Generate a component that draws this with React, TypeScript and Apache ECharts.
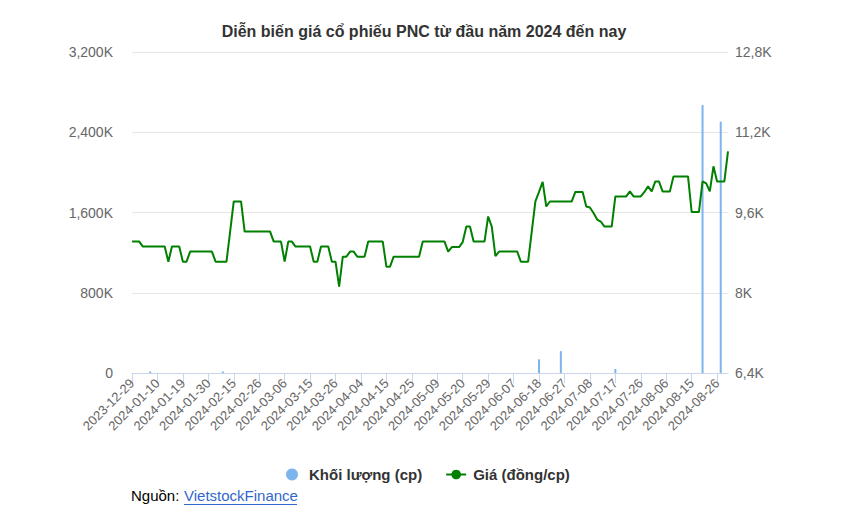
import React, { useEffect, useRef } from "react";
import * as echarts from "echarts";

const TITLE = "Diễn biến giá cổ phiếu PNC từ đầu năm 2024 đến nay";
const LEGEND_VOLUME = "Khối lượng (cp)";
const LEGEND_PRICE = "Giá (đồng/cp)";

const dates: string[] = [
  "2023-12-29", "2024-01-02", "2024-01-03", "2024-01-04", "2024-01-05", "2024-01-08", "2024-01-09", "2024-01-10", "2024-01-11", "2024-01-12",
  "2024-01-15", "2024-01-16", "2024-01-17", "2024-01-18", "2024-01-19", "2024-01-22", "2024-01-23", "2024-01-24", "2024-01-25", "2024-01-26",
  "2024-01-29", "2024-01-30", "2024-01-31", "2024-02-01", "2024-02-02", "2024-02-05", "2024-02-06", "2024-02-07", "2024-02-15", "2024-02-16",
  "2024-02-19", "2024-02-20", "2024-02-21", "2024-02-22", "2024-02-23", "2024-02-26", "2024-02-27", "2024-02-28", "2024-02-29", "2024-03-01",
  "2024-03-04", "2024-03-05", "2024-03-06", "2024-03-07", "2024-03-08", "2024-03-11", "2024-03-12", "2024-03-13", "2024-03-14", "2024-03-15",
  "2024-03-18", "2024-03-19", "2024-03-20", "2024-03-21", "2024-03-22", "2024-03-25", "2024-03-26", "2024-03-27", "2024-03-28", "2024-03-29",
  "2024-04-01", "2024-04-02", "2024-04-03", "2024-04-04", "2024-04-05", "2024-04-08", "2024-04-09", "2024-04-10", "2024-04-11", "2024-04-12",
  "2024-04-15", "2024-04-16", "2024-04-17", "2024-04-19", "2024-04-22", "2024-04-23", "2024-04-24", "2024-04-25", "2024-04-26", "2024-05-02",
  "2024-05-03", "2024-05-06", "2024-05-07", "2024-05-08", "2024-05-09", "2024-05-10", "2024-05-13", "2024-05-14", "2024-05-15", "2024-05-16",
  "2024-05-17", "2024-05-20", "2024-05-21", "2024-05-22", "2024-05-23", "2024-05-24", "2024-05-27", "2024-05-28", "2024-05-29", "2024-05-30",
  "2024-05-31", "2024-06-03", "2024-06-04", "2024-06-05", "2024-06-06", "2024-06-07", "2024-06-10", "2024-06-11", "2024-06-12", "2024-06-13",
  "2024-06-14", "2024-06-17", "2024-06-18", "2024-06-19", "2024-06-20", "2024-06-21", "2024-06-24", "2024-06-25", "2024-06-26", "2024-06-27",
  "2024-06-28", "2024-07-01", "2024-07-02", "2024-07-03", "2024-07-04", "2024-07-05", "2024-07-08", "2024-07-09", "2024-07-10", "2024-07-11",
  "2024-07-12", "2024-07-15", "2024-07-16", "2024-07-17", "2024-07-18", "2024-07-19", "2024-07-22", "2024-07-23", "2024-07-24", "2024-07-25",
  "2024-07-26", "2024-07-29", "2024-07-30", "2024-07-31", "2024-08-01", "2024-08-02", "2024-08-05", "2024-08-06", "2024-08-07", "2024-08-08",
  "2024-08-09", "2024-08-12", "2024-08-13", "2024-08-14", "2024-08-15", "2024-08-16", "2024-08-19", "2024-08-20", "2024-08-21", "2024-08-22",
  "2024-08-23", "2024-08-26", "2024-08-27", "2024-08-28", "2024-08-29",
];

const price: number[] = [
  9020, 9020, 9020, 8920, 8920, 8920, 8920, 8920, 8920, 8920,
  8620, 8920, 8920, 8920, 8620, 8620, 8820, 8820, 8820, 8820,
  8820, 8820, 8820, 8620, 8620, 8620, 8620, 9220, 9820, 9820,
  9820, 9220, 9220, 9220, 9220, 9220, 9220, 9220, 9220, 9020,
  9020, 9020, 8620, 9020, 9020, 8920, 8920, 8920, 8920, 8920,
  8620, 8620, 8920, 8920, 8920, 8620, 8620, 8120, 8720, 8720,
  8820, 8820, 8720, 8720, 8720, 9020, 9020, 9020, 9020, 9020,
  8520, 8520, 8720, 8720, 8720, 8720, 8720, 8720, 8720, 8720,
  9020, 9020, 9020, 9020, 9020, 9020, 9020, 8820, 8910, 8910,
  8910, 9010, 9320, 9320, 9020, 9020, 9020, 9020, 9520, 9320,
  8730, 8820, 8820, 8820, 8820, 8820, 8820, 8620, 8620, 8620,
  9220, 9820, 10010, 10210, 9720, 9820, 9820, 9820, 9820, 9820,
  9820, 9820, 10010, 10010, 10010, 9720, 9700, 9590, 9460, 9420,
  9320, 9320, 9320, 9920, 9920, 9920, 9920, 10020, 9920, 9920,
  9920, 10010, 10120, 10020, 10220, 10220, 10020, 10020, 10020, 10320,
  10320, 10320, 10320, 10320, 9610, 9610, 9610, 10220, 10180, 10020,
  10520, 10220, 10220, 10220, 10820,
];

// volume (shares): only the visible bars; all other days are below one pixel
const volumeVisible: Record<number, number> = {
  5: 15000,
  25: 15000,
  112: 136000,
  118: 218000,
  133: 40000,
  157: 2672000,
  162: 2505000,
};
const volume: number[] = dates.map((_, i) => volumeVisible[i] ?? 0);

const leftTicks = { min: 0, max: 3200000, interval: 800000 };
const rightTicks = { min: 6400, max: 12800, interval: 1600 };

const FONT = "'Liberation Sans', Arial, Helvetica, sans-serif";

export default function App() {
  const ref = useRef<HTMLDivElement>(null);
  useEffect(() => {
    if (!ref.current) return;
    const chart = echarts.init(ref.current, undefined, { renderer: "svg" });
    chart.setOption({
      animation: false,
      textStyle: { fontFamily: FONT },
      title: {
        text: TITLE,
        left: "center",
        top: 18,
        textStyle: { fontSize: 16, fontWeight: "bold", color: "#333333", fontFamily: FONT },
      },
      legend: {
        left: 281,
        top: 462,
        itemWidth: 20,
        itemHeight: 12,
        itemGap: 23,
        textStyle: { fontSize: 15, fontWeight: "bold", color: "#333333", fontFamily: FONT, padding: [0, 0, 0, 2] },
        data: [
          { name: LEGEND_VOLUME, icon: "circle" },
          { name: LEGEND_PRICE },
        ],
      },
      grid: { left: 132, right: 120, top: 52, bottom: 157, containLabel: false },
      xAxis: {
        type: "category",
        data: dates,
        boundaryGap: false,
        axisLine: { lineStyle: { color: "#ccd6eb" } },
        axisTick: { interval: 6, length: 10, lineStyle: { color: "#ccd6eb" } },
        axisLabel: {
          interval: 6,
          rotate: 45,
          margin: 8,
          fontSize: 13,
          color: "#666666",
          fontFamily: FONT,
        },
      },
      yAxis: [
        {
          type: "value",
          min: leftTicks.min,
          max: leftTicks.max,
          interval: leftTicks.interval,
          axisLine: { show: false },
          axisTick: { show: false },
          splitLine: { lineStyle: { color: "#e6e6e6" } },
          axisLabel: {
            margin: 19,
            fontSize: 14,
            color: "#666666",
            fontFamily: FONT,
            formatter: (v: number) => (v === 0 ? "0" : (v / 1000).toLocaleString("en-US") + "K"),
          },
        },
        {
          type: "value",
          min: rightTicks.min,
          max: rightTicks.max,
          interval: rightTicks.interval,
          axisLine: { show: false },
          axisTick: { show: false },
          splitLine: { show: false },
          axisLabel: {
            margin: 7,
            fontSize: 14,
            color: "#666666",
            fontFamily: FONT,
            formatter: (v: number) => String(v / 1000).replace(".", ",") + "K",
          },
        },
      ],
      series: [
        {
          name: LEGEND_VOLUME,
          type: "bar",
          yAxisIndex: 0,
          data: volume,
          barWidth: 2,
          itemStyle: { color: "#7cb5ec" },
        },
        {
          name: LEGEND_PRICE,
          type: "line",
          yAxisIndex: 1,
          data: price,
          symbol: "circle",
          symbolSize: 8,
          showSymbol: false,
          lineStyle: { color: "#008000", width: 2 },
          itemStyle: { color: "#008000" },
        },
      ],
      graphic: [
        {
          type: "text",
          left: 131,
          top: 488,
          style: { text: "Nguồn:", fontSize: 15, fill: "#000000", fontFamily: FONT },
        },
        {
          type: "text",
          left: 184,
          top: 488,
          style: { text: "VietstockFinance", fontSize: 15, fill: "#3366cc", fontFamily: FONT },
        },
        {
          type: "line",
          shape: { x1: 184, y1: 504.5, x2: 297, y2: 504.5 },
          style: { stroke: "#3366cc", lineWidth: 1 },
        },
      ],
    });
    return () => chart.dispose();
  }, []);
  return (
    <div
      ref={ref}
      style={{ position: "absolute", left: 0, top: 0, width: 848, height: 530 }}
    />
  );
}
